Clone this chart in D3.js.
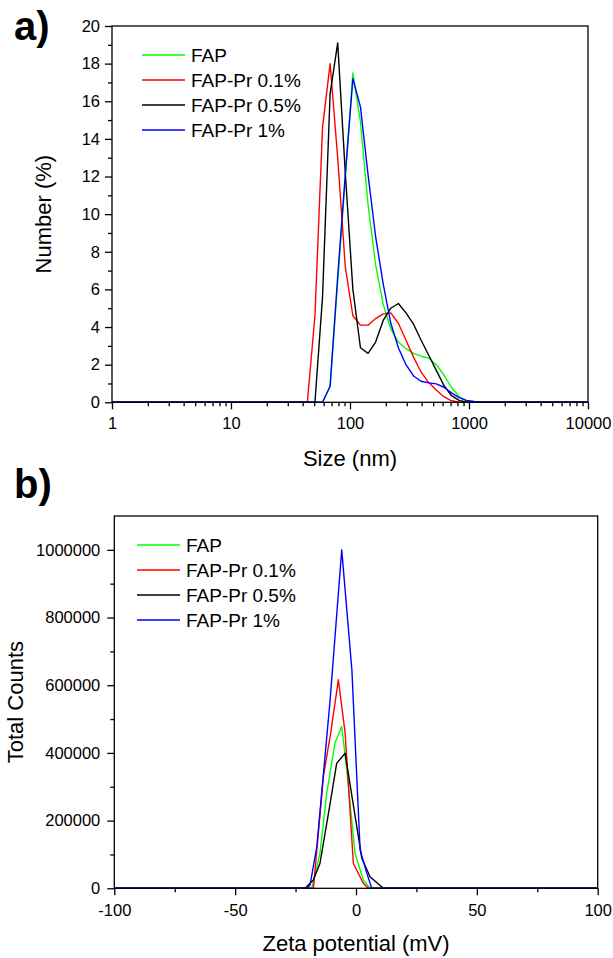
<!DOCTYPE html>
<html>
<head>
<meta charset="utf-8">
<script src="https://cdn.jsdelivr.net/npm/d3@7"></script>
<style>
  body { margin: 0; background: #fff; }
  text { font-family: "Liberation Sans", Arial, sans-serif; fill: #000; }
</style>
</head>
<body>
<svg id="chart" width="613" height="958"></svg>
<script>
// ---- data: a) DLS number distribution ----
var sizeNm = [1, 37.84, 43.82, 50.75, 58.77, 68.06, 78.82, 91.28, 105.7, 122.4, 141.8, 164.2, 190.1, 220.2,
              255.0, 295.3, 342.0, 396.1, 458.7, 531.2, 615.1, 712.4, 825.0, 955.4, 1106, 1281, 1484, 10000];
var numFAP   = [0, 0, 0, 0, 0, 0.85, 6.4, 11.9, 17.5, 14.9, 10.5, 7.3, 5.2, 3.9,
                3.2, 2.85, 2.6, 2.45, 2.35, 2.0, 1.45, 0.8, 0.3, 0.05, 0, 0, 0, 0];
var numPr01  = [0, 0, 0, 4.6, 14.6, 18.0, 13.0, 7.2, 4.6, 4.1, 4.1, 4.45, 4.7, 4.75,
                4.2, 3.3, 2.4, 1.6, 1.05, 0.65, 0.3, 0.08, 0, 0, 0, 0, 0, 0];
var numPr05  = [0, 0, 0, 0, 5.6, 16.4, 19.1, 12.2, 6.0, 2.9, 2.6, 3.2, 4.35, 5.0,
                5.25, 4.75, 4.15, 3.3, 2.5, 1.7, 0.9, 0.35, 0.1, 0, 0, 0, 0, 0];
var numPr1   = [0, 0, 0, 0, 0, 0.85, 6.7, 12.1, 17.2, 15.7, 12.1, 8.8, 6.3, 4.2,
                2.9, 2.0, 1.4, 1.12, 1.03, 0.98, 0.8, 0.5, 0.25, 0.1, 0.04, 0, 0, 0];
var sizeTicks = [1, 10, 100, 1000, 10000];
var numTicks = [0, 2, 4, 6, 8, 10, 12, 14, 16, 18, 20];

// ---- data: b) zeta potential ----
var mvFAP    = [-100, -18.3, -14.9, -12.1, -8.7, -5.9, -3.8, -0.4, 3.0, 5.8, 100];
var cntFAP   = [0, 0, 104000, 281000, 429000, 478000, 350000, 103000, 25000, 0, 0];
var mvPr01   = [-100, -17.6, -16.2, -13.5, -10.5, -7.3, -4.5, -1.1, 3.0, 5.1, 100];
var cntPr01  = [0, 0, 113000, 330000, 458000, 616000, 459000, 74000, 15000, 0, 0];
var mvPr05   = [-100, -21, -17.6, -14.9, -10.7, -8.0, -4.5, -3.2, 2.4, 5.8, 11.3, 100];
var cntPr05  = [0, 0, 25000, 74000, 251000, 369000, 399000, 340000, 89000, 34000, 0, 0];
var mvPr1    = [-100, -20.1, -19.0, -16.2, -10.7, -5.9, -1.7, 1.7, 4.5, 6.5, 100];
var cntPr1   = [0, 0, 10000, 123000, 557000, 1000000, 645000, 113000, 44000, 0, 0];
var mvTicks = [-100, -50, 0, 50, 100];
var cntTicks = [0, 200000, 400000, 600000, 800000, 1000000];

var names = ["FAP", "FAP-Pr 0.1%", "FAP-Pr 0.5%", "FAP-Pr 1%"];
var colors = ["#00ff00", "#ff0000", "#000000", "#0000ff"];

var svg = d3.select("#chart");
svg.append("rect").attr("width", 613).attr("height", 958).attr("fill", "#fff");

var plain = function(d) { return String(d); };   // keep ASCII hyphen for negatives

function styleAxis(g, fs) {
  g.select(".domain").remove();
  g.selectAll("line").attr("stroke", "#000").attr("stroke-width", 1.3);
  g.selectAll("text").style("font-size", fs + "px");
}

function legend(g, x0, y0, step) {
  names.forEach(function(n, i) {
    var row = g.append("g").attr("transform", "translate(" + x0 + "," + (y0 + i * step) + ")");
    row.append("line").attr("x1", 0).attr("x2", 43).attr("stroke", colors[i]).attr("stroke-width", 1.6);
    row.append("text").attr("x", 49).attr("dy", "0.35em").style("font-size", "19px").text(n);
  });
}

// ================= panel a =================
var A = { left: 112, right: 588, top: 26, bottom: 402.3 };
var xA = d3.scaleLog().domain([1, 10000]).range([A.left, A.right]);
var yA = d3.scaleLinear().domain([0, 20]).range([A.bottom, A.top]);

svg.append("defs").append("clipPath").attr("id", "clipA").append("rect")
  .attr("x", A.left).attr("y", A.top).attr("width", A.right - A.left).attr("height", A.bottom - A.top);

var minorSize = [];
[1, 10, 100, 1000].forEach(function(d) { for (var k = 2; k <= 9; k++) minorSize.push(d * k); });
var minorNum = [1, 3, 5, 7, 9, 11, 13, 15, 17, 19];

svg.append("g").attr("transform", "translate(0," + A.bottom + ")")
  .call(d3.axisBottom(xA).tickValues(minorSize).tickSize(4).tickFormat(""))
  .call(styleAxis, 16);
svg.append("g").attr("transform", "translate(0," + A.bottom + ")")
  .call(d3.axisBottom(xA).tickValues(sizeTicks).tickSize(7).tickPadding(8).tickFormat(plain))
  .call(styleAxis, 16.5);
svg.append("g").attr("transform", "translate(" + A.left + ",0)")
  .call(d3.axisLeft(yA).tickValues(minorNum).tickSize(4).tickFormat(""))
  .call(styleAxis, 16);
svg.append("g").attr("transform", "translate(" + A.left + ",0)")
  .call(d3.axisLeft(yA).tickValues(numTicks).tickSize(7).tickPadding(5))
  .call(styleAxis, 16.5);

var seriesA = [numFAP, numPr01, numPr05, numPr1];
var lineA = d3.line().x(function(d) { return xA(d[0]); }).y(function(d) { return yA(d[1]); });
var gA = svg.append("g").attr("clip-path", "url(#clipA)");
// draw order: green, red, black, blue on top
seriesA.forEach(function(vals, i) {
  gA.append("path").datum(d3.zip(sizeNm, vals))
    .attr("d", lineA).attr("fill", "none").attr("stroke", colors[i]).attr("stroke-width", 1.4)
    .attr("stroke-linejoin", "round");
});

svg.append("rect").attr("x", A.left).attr("y", A.top).attr("width", A.right - A.left).attr("height", A.bottom - A.top)
  .attr("fill", "none").attr("stroke", "#000").attr("stroke-width", 1.3);

legend(svg.append("g"), 142, 55, 25);

svg.append("text").attr("x", (A.left + A.right) / 2).attr("y", 466).attr("text-anchor", "middle")
  .style("font-size", "22px").text("Size (nm)");
svg.append("text").attr("transform", "translate(43," + ((A.top + A.bottom) / 2) + ") rotate(-90)")
  .attr("dy", "0.35em").attr("text-anchor", "middle").style("font-size", "22px").text("Number (%)");
svg.append("text").attr("x", 14).attr("y", 40).style("font-size", "40px").style("font-weight", "bold").text("a)");

// ================= panel b =================
var B = { left: 114.3, right: 597.7, top: 516, bottom: 888.3 };
var xB = d3.scaleLinear().domain([-100, 100]).range([B.left, B.right]);
var yB = d3.scaleLinear().domain([0, 1100000]).range([B.bottom, B.top]);

svg.select("defs").append("clipPath").attr("id", "clipB").append("rect")
  .attr("x", B.left).attr("y", B.top).attr("width", B.right - B.left).attr("height", B.bottom - B.top);

svg.append("g").attr("transform", "translate(0," + B.bottom + ")")
  .call(d3.axisBottom(xB).tickValues([-75, -25, 25, 75]).tickSize(4).tickFormat(""))
  .call(styleAxis, 16);
svg.append("g").attr("transform", "translate(0," + B.bottom + ")")
  .call(d3.axisBottom(xB).tickValues(mvTicks).tickSize(7).tickPadding(9).tickFormat(plain))
  .call(styleAxis, 16.5);
svg.append("g").attr("transform", "translate(" + B.left + ",0)")
  .call(d3.axisLeft(yB).tickValues([100000, 300000, 500000, 700000, 900000]).tickSize(4).tickFormat(""))
  .call(styleAxis, 16);
svg.append("g").attr("transform", "translate(" + B.left + ",0)")
  .call(d3.axisLeft(yB).tickValues(cntTicks).tickSize(7).tickPadding(7).tickFormat(plain))
  .call(styleAxis, 16.5);

var seriesB = [[mvFAP, cntFAP], [mvPr01, cntPr01], [mvPr05, cntPr05], [mvPr1, cntPr1]];
var lineB = d3.line().x(function(d) { return xB(d[0]); }).y(function(d) { return yB(d[1]); });
var gB = svg.append("g").attr("clip-path", "url(#clipB)");
seriesB.forEach(function(s, i) {
  gB.append("path").datum(d3.zip(s[0], s[1]))
    .attr("d", lineB).attr("fill", "none").attr("stroke", colors[i]).attr("stroke-width", 1.4)
    .attr("stroke-linejoin", "round");
});

svg.append("rect").attr("x", B.left).attr("y", B.top).attr("width", B.right - B.left).attr("height", B.bottom - B.top)
  .attr("fill", "none").attr("stroke", "#000").attr("stroke-width", 1.3);

legend(svg.append("g"), 137, 545, 25);

svg.append("text").attr("x", (B.left + B.right) / 2).attr("y", 951).attr("text-anchor", "middle")
  .style("font-size", "22px").text("Zeta potential (mV)");
svg.append("text").attr("transform", "translate(15," + ((B.top + B.bottom) / 2) + ") rotate(-90)")
  .attr("dy", "0.35em").attr("text-anchor", "middle").style("font-size", "22px").text("Total Counts");
svg.append("text").attr("x", 14).attr("y", 498).style("font-size", "40px").style("font-weight", "bold").text("b)");
</script>
</body>
</html>
